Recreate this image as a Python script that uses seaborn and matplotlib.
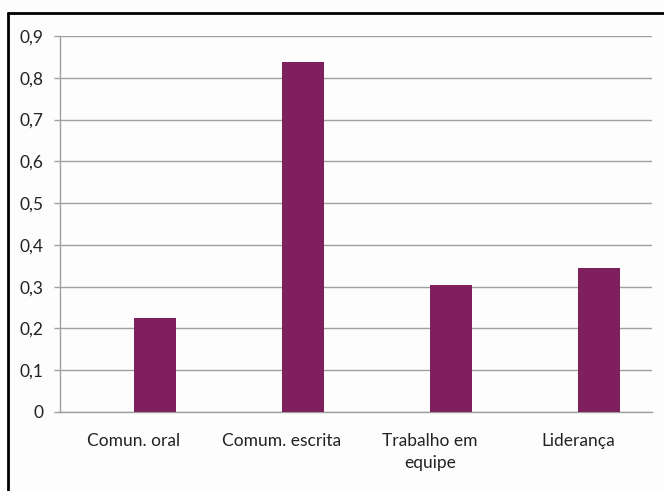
import matplotlib
matplotlib.use("Agg")
import matplotlib.pyplot as plt
import seaborn as sns
import pandas as pd
from matplotlib.lines import Line2D
from matplotlib.ticker import FuncFormatter

# dados
categorias = ["Comun. oral", "Comum. escrita", "Trabalho em\nequipe", "Liderança"]
valores = [0.225, 0.837, 0.304, 0.345]
series = ["vazia", "Serie 1"]  # primeira serie vazia (como no Excel)
yticks = [0, 0.1, 0.2, 0.3, 0.4, 0.5, 0.6, 0.7, 0.8, 0.9]

df = pd.DataFrame({
    "categoria": categorias * 2,
    "valor": [0.0] * len(categorias) + valores,
    "serie": [series[0]] * len(categorias) + [series[1]] * len(categorias),
})

sns.set_style("white")
plt.rcParams["font.family"] = ["Lato", "DejaVu Sans"]

fig = plt.figure(figsize=(6.64, 4.91), dpi=100, facecolor="#fdfdfd")
ax = fig.add_axes([60/664, 1-412/491, (652-60)/664, (412-36)/491])
ax.set_facecolor("#fdfdfd")

sns.barplot(data=df, x="categoria", y="valor", hue="serie", hue_order=series,
            palette=["#fdfdfd", "#7f1f5e"], saturation=1, width=0.572, gap=0, dodge=True,
            errorbar=None, legend=False, linewidth=0, ax=ax, zorder=3)

ax.set_ylim(0, 0.9)
ax.set_xlim(-0.5, len(categorias) - 0.5)
ax.set_yticks(yticks)
ax.yaxis.set_major_formatter(FuncFormatter(lambda v, p: ("%.1f" % v).replace(".", ",") if v else "0"))
ax.set_xlabel("")
ax.set_ylabel("")
ax.grid(axis="y", color="#a0a0a0", linewidth=1.0, zorder=0)
ax.set_axisbelow(True)

for s in ["top", "right"]:
    ax.spines[s].set_visible(False)
for s in ["left", "bottom"]:
    ax.spines[s].set_color("#a0a0a0")
    ax.spines[s].set_linewidth(1.0)

ax.set_xticks([i - 0.5 for i in range(len(categorias) + 1)], minor=True)
ax.tick_params(axis="x", which="major", length=0, pad=15, labelsize=12.5, colors="#222222")
ax.tick_params(axis="x", which="minor", length=4, width=1, color="#a0a0a0", direction="out")
ax.tick_params(axis="y", length=4, width=1, color="#a0a0a0", direction="out", pad=8,
               labelsize=12.5, labelcolor="#222222", left=True)
for lbl in ax.get_xticklabels():
    lbl.set_linespacing(1.45)

# moldura do grafico
fig.add_artist(Line2D([8/664, 1], [1-13/491, 1-13/491], color="black", linewidth=2))
fig.add_artist(Line2D([8/664, 8/664], [0, 1-13/491], color="black", linewidth=2))

fig.savefig("out.png", dpi=100, facecolor=fig.get_facecolor())
